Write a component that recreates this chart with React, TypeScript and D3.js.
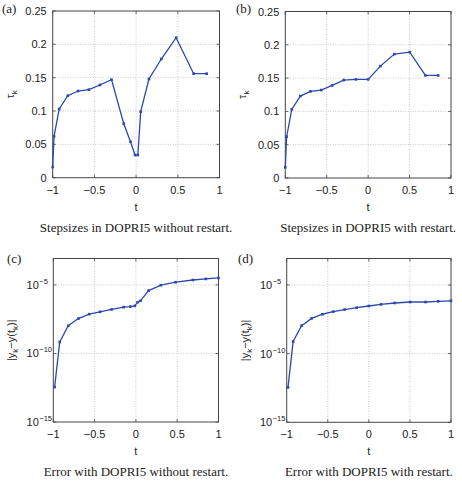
import React from "react";
import * as d3 from "d3";

// ---- data ----
const tA = [-1, -0.984, -0.922, -0.819, -0.696, -0.566, -0.434, -0.295, -0.148, -0.067, -0.013, 0.021, 0.055, 0.154, 0.302, 0.48, 0.69, 0.846];
const tauA = [0.016, 0.062, 0.103, 0.123, 0.130, 0.132, 0.139, 0.147, 0.081, 0.054, 0.034, 0.034, 0.099, 0.148, 0.178, 0.21, 0.156, 0.156];

const tB = [-1, -0.984, -0.922, -0.819, -0.696, -0.566, -0.434, -0.295, -0.148, 0.0, 0.148, 0.316, 0.502, 0.691, 0.845];
const tauB = [0.016, 0.062, 0.103, 0.123, 0.130, 0.132, 0.139, 0.147, 0.148, 0.148, 0.168, 0.186, 0.189, 0.154, 0.154];

const tC = [-0.984, -0.922, -0.819, -0.696, -0.566, -0.434, -0.295, -0.148, -0.067, -0.013, 0.021, 0.055, 0.154, 0.302, 0.48, 0.69, 0.846, 1.0];
const logErrC = [-12.46, -9.16, -7.98, -7.45, -7.13, -6.96, -6.79, -6.62, -6.58, -6.53, -6.26, -6.16, -5.41, -5.02, -4.80, -4.64, -4.56, -4.49];

const tD = [-0.984, -0.922, -0.819, -0.696, -0.566, -0.434, -0.295, -0.148, 0.0, 0.148, 0.316, 0.502, 0.691, 0.845, 1.0];
const logErrD = [-12.46, -9.12, -7.96, -7.43, -7.13, -6.94, -6.79, -6.65, -6.53, -6.41, -6.31, -6.24, -6.24, -6.19, -6.15];

const xTicks = [-1, -0.5, 0, 0.5, 1];
const yTicksLin = [0, 0.05, 0.1, 0.15, 0.2, 0.25];
const yTicksLogExp = [-15, -10, -5];

const captions = [
  "Stepsizes in DOPRI5 without restart.",
  "Stepsizes in DOPRI5 with restart.",
  "Error with DOPRI5 without restart.",
  "Error with DOPRI5 with restart.",
];
const panelLabels = ["(a)", "(b)", "(c)", "(d)"];

const SANS = "'Liberation Sans', Arial, Helvetica, sans-serif";
const SERIF = "'Liberation Serif', 'Times New Roman', serif";
const BLUE = "#2c48ad";
const fmt = (v: number) => (v < 0 ? "\u2212" + String(Math.abs(v)) : String(v));

type PanelProps = {
  box: { l: number; r: number; t: number; b: number };
  xs: number[];
  ys: number[];
  log: boolean;
  label: string;
  caption: string;
  labelPos: [number, number];
};

function Panel({ box, xs, ys, log, label, caption, labelPos }: PanelProps) {
  const x = d3.scaleLinear().domain([-1, 1]).range([box.l, box.r]);
  const y = log
    ? d3.scaleLinear().domain([-15, -3.07]).range([box.b, box.t])
    : d3.scaleLinear().domain([0, 0.25]).range([box.b, box.t]);
  const pts: [number, number][] = xs.map((t, i) => [x(t), y(ys[i])]);
  const line = d3.line()(pts) || "";
  const yTickVals = log ? yTicksLogExp : yTicksLin;
  const tk = 3;
  const cx = (box.l + box.r) / 2;
  const cy = (box.t + box.b) / 2;
  return (
    <g>
      {/* grid */}
      {xTicks.slice(1, -1).map((v) => (
        <line key={"gx" + v} x1={x(v)} x2={x(v)} y1={box.t} y2={box.b} stroke="#bbb" strokeWidth={0.8} strokeDasharray="1,1.5" />
      ))}
      {yTickVals.map((v) =>
        y(v) > box.t + 1 && y(v) < box.b - 1 ? (
          <line key={"gy" + v} x1={box.l} x2={box.r} y1={y(v)} y2={y(v)} stroke="#bbb" strokeWidth={0.8} strokeDasharray="1,1.5" />
        ) : null
      )}
      {/* ticks */}
      {xTicks.map((v) => (
        <g key={"xt" + v}>
          <line x1={x(v)} x2={x(v)} y1={box.b} y2={box.b - tk} stroke="#444" strokeWidth={0.8} />
          <line x1={x(v)} x2={x(v)} y1={box.t} y2={box.t + tk} stroke="#444" strokeWidth={0.8} />
          <text x={x(v)} y={box.b + 16} textAnchor="middle" fontFamily={SANS} fontSize={11} fill="#222">
            {fmt(v)}
          </text>
        </g>
      ))}
      {yTickVals.map((v) => (
        <g key={"yt" + v}>
          <line x1={box.l} x2={box.l + tk} y1={y(v)} y2={y(v)} stroke="#444" strokeWidth={0.8} />
          <line x1={box.r} x2={box.r - tk} y1={y(v)} y2={y(v)} stroke="#444" strokeWidth={0.8} />
          {log ? (
            <text x={box.l - 14.5} y={y(v) + 4} textAnchor="end" fontFamily={SANS} fontSize={11} fill="#222">
              10
            </text>
          ) : (
            <text x={box.l - 6} y={y(v) + 4} textAnchor="end" fontFamily={SANS} fontSize={11} fill="#222">
              {String(v)}
            </text>
          )}
          {log ? (
            <text x={box.l - 14} y={y(v) - 1} textAnchor="start" fontFamily={SANS} fontSize={7.5} fill="#222">
              {fmt(v)}
            </text>
          ) : null}
        </g>
      ))}
      {/* box */}
      <rect x={box.l} y={box.t} width={box.r - box.l} height={box.b - box.t} fill="none" stroke="#444" strokeWidth={1} />
      {/* data */}
      <path d={line} fill="none" stroke={BLUE} strokeWidth={1.3} />
      {pts.map((p, i) => (
        <rect key={"m" + i} x={p[0] - 1.3} y={p[1] - 1.3} width={2.6} height={2.6} fill={BLUE} />
      ))}
      {/* axis labels */}
      <text x={cx} y={box.b + 33} textAnchor="middle" fontFamily={SANS} fontSize={11} fill="#222">
        t
      </text>
      {log ? (
        <text transform={`translate(${box.l - 38},${cy}) rotate(-90)`} textAnchor="middle" fontFamily={SANS} fontSize={11} fill="#222">
          |y<tspan fontSize={8} dy={3}>k</tspan>
          <tspan dy={-3}>−y(t</tspan>
          <tspan fontSize={8} dy={3}>k</tspan>
          <tspan dy={-3}>)|</tspan>
        </text>
      ) : (
        <text transform={`translate(${box.l - 39},${cy}) rotate(-90)`} textAnchor="middle" fontFamily={SANS} fontSize={11} fill="#222">
          τ<tspan fontSize={8} dy={3}>k</tspan>
        </text>
      )}
      <text x={labelPos[0]} y={labelPos[1]} fontFamily={SERIF} fontSize={13} fill="#222">
        {label}
      </text>
      <text x={cx} y={box.b + 54} textAnchor="middle" fontFamily={SERIF} fontSize={13} fill="#222">
        {caption}
      </text>
    </g>
  );
}

export default function App() {
  const boxes = [
    { l: 52.7, r: 219.5, t: 11, b: 177.7 },
    { l: 285.3, r: 451, t: 11.5, b: 178 },
    { l: 53.3, r: 218.5, t: 258.5, b: 422 },
    { l: 286.7, r: 451, t: 258.5, b: 422.3 },
  ];
  const labelPos: [number, number][] = [
    [2, 13],
    [236, 13],
    [7, 263],
    [238, 263],
  ];
  return (
    <svg width={462} height={483} style={{ position: "absolute", left: 0, top: 0, background: "#fff" }}>
      <rect x={0} y={0} width={462} height={483} fill="#fff" />
      <Panel box={boxes[0]} xs={tA} ys={tauA} log={false} label={panelLabels[0]} caption={captions[0]} labelPos={labelPos[0]} />
      <Panel box={boxes[1]} xs={tB} ys={tauB} log={false} label={panelLabels[1]} caption={captions[1]} labelPos={labelPos[1]} />
      <Panel box={boxes[2]} xs={tC} ys={logErrC} log={true} label={panelLabels[2]} caption={captions[2]} labelPos={labelPos[2]} />
      <Panel box={boxes[3]} xs={tD} ys={logErrD} log={true} label={panelLabels[3]} caption={captions[3]} labelPos={labelPos[3]} />
    </svg>
  );
}
